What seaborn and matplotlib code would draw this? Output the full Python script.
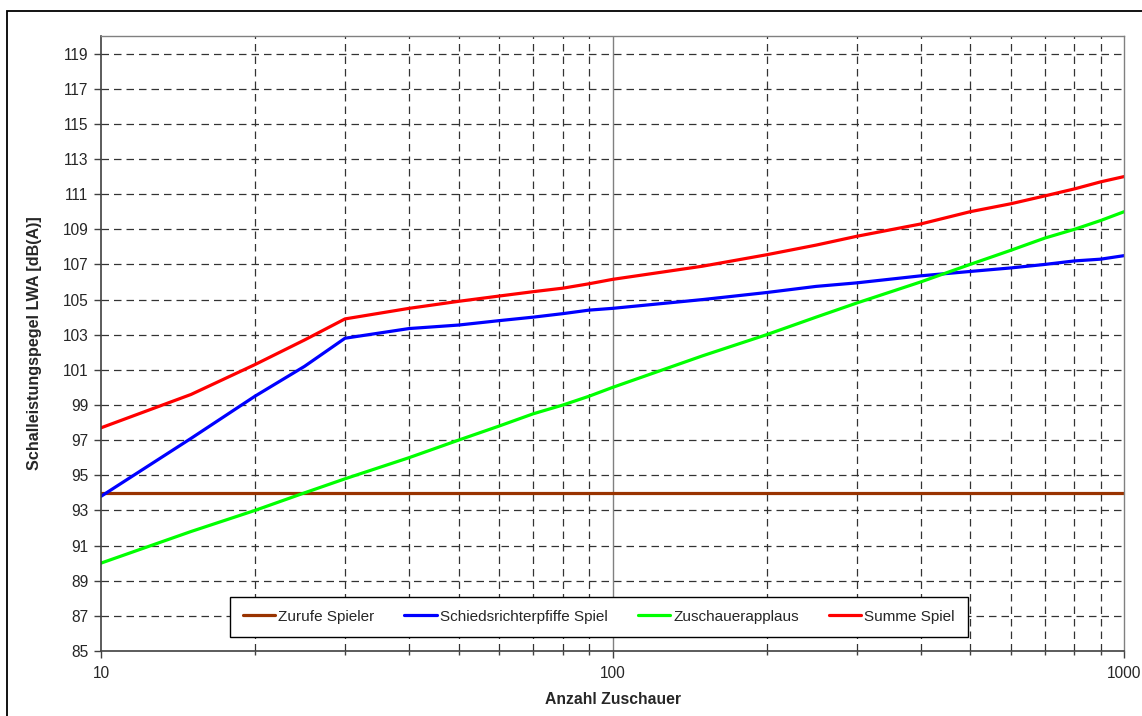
import numpy as np
import pandas as pd
import matplotlib
matplotlib.use('Agg')
from matplotlib import pyplot as plt
from matplotlib.patches import Rectangle
import seaborn as sns

# Daten
zuschauer = [10, 15, 20, 25, 30, 40, 50, 60, 70, 80, 90, 100, 150, 200, 250,
             300, 400, 500, 600, 700, 800, 900, 1000]
zurufe = [94.0] * len(zuschauer)
pfiffe = [93.8, 97.1, 99.5, 101.2, 102.8, 103.35, 103.55, 103.8, 104.0, 104.2,
          104.4, 104.5, 105.0, 105.4, 105.75, 105.95, 106.35, 106.6, 106.8,
          107.0, 107.2, 107.3, 107.5]
applaus = [90.0, 91.8, 93.0, 94.0, 94.8, 96.0, 97.0, 97.8, 98.5, 99.0, 99.5,
           100.0, 101.8, 103.0, 104.0, 104.8, 106.0, 107.0, 107.8, 108.5,
           109.0, 109.5, 110.0]
summe = [97.7, 99.6, 101.3, 102.7, 103.9, 104.5, 104.9, 105.2, 105.45, 105.65,
         105.9, 106.15, 106.9, 107.55, 108.1, 108.6, 109.3, 110.0, 110.45,
         110.9, 111.3, 111.7, 112.0]

namen = ['Zurufe Spieler', 'Schiedsrichterpfiffe Spiel', 'Zuschauerapplaus', 'Summe Spiel']
farben = ['#993300', '#0000FF', '#00FF00', '#FF0000']

df = pd.DataFrame({'Zuschauer': zuschauer * 4,
                   'Pegel': zurufe + pfiffe + applaus + summe,
                   'Reihe': np.repeat(namen, len(zuschauer))})

sns.set_style('white')
plt.rcParams['font.family'] = ['Liberation Sans', 'DejaVu Sans']

fig = plt.figure(figsize=(11.42, 7.16), dpi=100)
ax = fig.add_axes([0.0884, 0.0908, 0.8959, 0.8589])

# Rahmen um das ganze Diagramm
fig.patches.append(Rectangle((7 / 1142, -0.05), 1.2, 0.05 + 1 - 11 / 716,
                             transform=fig.transFigure, fill=False,
                             edgecolor='black', linewidth=1.3, zorder=0))

sns.lineplot(data=df, x='Zuschauer', y='Pegel', hue='Reihe', hue_order=namen,
             palette=farben, linewidth=2.3, ax=ax, sort=False, estimator=None)

ax.set_xscale('log')
ax.set_xlim(10, 1000)
ax.set_ylim(85, 120)
ax.set_yticks(np.arange(85, 120, 2))
ax.set_xticks([10, 100, 1000])
ax.set_xticklabels(['10', '100', '1000'])
ax.xaxis.set_minor_locator(matplotlib.ticker.LogLocator(base=10, subs=np.arange(2, 10)))
ax.xaxis.set_minor_formatter(matplotlib.ticker.NullFormatter())

ax.grid(False)
for v in np.arange(87, 120, 2):
    ax.axhline(v, color='#333333', linewidth=0.9, linestyle=(0, (6, 4)), zorder=0)
for v in list(range(20, 100, 10)) + list(range(200, 1000, 100)):
    ax.axvline(v, color='#333333', linewidth=0.9, linestyle=(0, (6, 4)), zorder=0)
ax.axvline(100, color='#808080', linewidth=1.0, zorder=0)

ax.tick_params(axis='both', which='major', direction='out', length=5, width=1,
               color='#404040', labelsize=11.2, pad=4, left=True, bottom=True)
ax.tick_params(axis='x', which='minor', direction='out', length=3, width=1,
               color='#404040', bottom=True)
ax.tick_params(axis='x', which='major', pad=6)
for s in ['left', 'bottom']:
    ax.spines[s].set_color('#404040')
    ax.spines[s].set_linewidth(1.2)
for s in ['top', 'right']:
    ax.spines[s].set_color('#808080')
    ax.spines[s].set_linewidth(1.0)

ax.set_xlabel('Anzahl Zuschauer', fontsize=11.3, fontweight='bold', labelpad=8)
ax.set_ylabel('Schalleistungspegel LWA [dB(A)]', fontsize=11.6, fontweight='bold', labelpad=15)

ax.legend(loc='center', bbox_to_anchor=(0.122, 0.024, 0.729, 0.064), ncol=4,
          fontsize=11, frameon=True, fancybox=False, edgecolor='black',
          framealpha=1, handlelength=2.1, handletextpad=0.2, columnspacing=2.0,
          borderpad=0.85)
ax.get_legend().get_frame().set_linewidth(1.0)

plt.savefig('out.png', dpi=100)
